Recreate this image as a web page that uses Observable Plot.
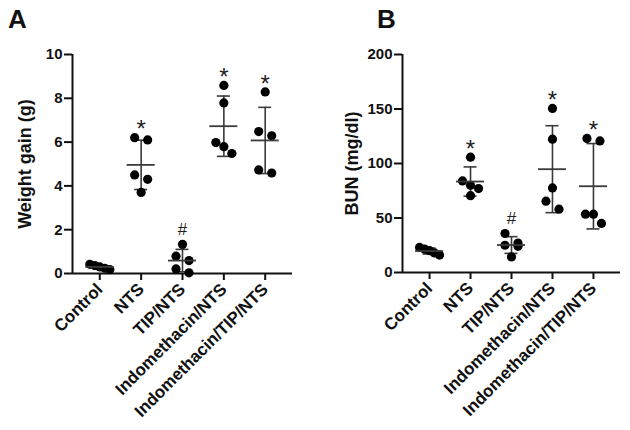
<!DOCTYPE html>
<html>
<head>
<meta charset="utf-8">
<script src="https://cdn.jsdelivr.net/npm/d3@7"></script>
<script src="https://cdn.jsdelivr.net/npm/@observablehq/plot@0.6"></script>
<style>
  html, body { margin: 0; padding: 0; background: #fff; }
  #wrap { position: relative; width: 630px; height: 430px; display: flex; }
  .letter { position: absolute; top: 6px; font: bold 26px/1 "Liberation Sans", Arial, sans-serif; color: #111; }
</style>
</head>
<body>
<div id="wrap">
  <div class="letter" style="left:8px">A</div>
  <div class="letter" style="left:377px">B</div>
</div>
<script>
// ---- data ----
const categories = ["Control", "NTS", "TIP/NTS", "Indomethacin/NTS", "Indomethacin/TIP/NTS"];
const weightGain = [
  [0.42, 0.36, 0.30, 0.24, 0.18],
  [6.2, 6.1, 4.5, 4.3, 3.7],
  [1.33, 0.79, 0.59, 0.21, 0.03],
  [8.59, 7.79, 5.98, 5.79, 5.48],
  [8.29, 6.48, 6.29, 4.73, 4.59]
];
const bun = [
  [23, 21.5, 20, 18, 16],
  [105.8, 84, 80, 77, 70.5],
  [35.8, 27, 25, 24, 14.3],
  [150.5, 122.3, 77.6, 65.4, 58.1],
  [123, 120.7, 53.5, 53.5, 45]
];
const significance = ["", "*", "#", "*", "*"];
const weightTicks = [0, 2, 4, 6, 8, 10];
const bunTicks = [0, 50, 100, 150, 200];

// ---- drawing ----
const W = 315, H = 430, PAD = 0.66;
const FONT = "'Liberation Sans', Arial, Helvetica, sans-serif";

function panel({values, ylabel, yMax, yTicks, ml, mr, mt, mb, labelX}) {
  const n = categories.length;
  const stepPx = (W - ml - mr) / (n - 1 + 2 * PAD);
  const pxPerUnit = (H - mt - mb) / yMax;
  const dots = [];
  values.forEach((vals, gi) => {
    const sorted = vals.slice().sort((a, b) => b - a);
    const rows = [];
    for (const v of sorted) {
      const r = rows[rows.length - 1];
      if (r && (r[0] - v) * pxPerUnit < 11.5) r.push(v); else rows.push([v]);
    }
    for (const r of rows) {
      const k = r.length;
      const h = k === 1 ? 0 : k === 2 ? 6.5 : k === 3 ? 8 : 10;
      r.forEach((v, j) => dots.push({g: gi, x: gi + (k === 1 ? 0 : (-h + 2 * h * j / (k - 1))) / stepPx, y: v}));
    }
  });
  const stats = values.map((vals, gi) => {
    const m = d3.mean(vals), s = d3.deviation(vals);
    return {i: gi, mean: m, lo: m - s, hi: m + s, max: d3.max(vals), sig: significance[gi]};
  });
  const meanHalf = 14 / stepPx, capHalf = 6.5 / stepPx;
  const barColor = "#3a3a3a";
  return Plot.plot({
    width: W, height: H,
    marginLeft: ml, marginRight: mr, marginTop: mt, marginBottom: mb,
    x: {type: "linear", domain: [-PAD, n - 1 + PAD]},
    y: {domain: [0, yMax]},
    style: {fontFamily: FONT, fontSize: "15px", fontWeight: "bold", color: "#111", background: "white", overflow: "visible"},
    marks: [
      Plot.ruleX([-PAD], {y1: 0, y2: yMax, stroke: "#111", strokeWidth: 2}),
      Plot.ruleY([0], {stroke: "#111", strokeWidth: 2}),
      Plot.axisY({ticks: yTicks, tickSize: 8, tickPadding: 2, strokeWidth: 2, label: null}),
      Plot.axisX({ticks: d3.range(n), tickFormat: i => categories[i], tickRotate: -45, tickSize: 7, tickPadding: 6, strokeWidth: 2, fontSize: 17, label: null}),
      Plot.text([ylabel], {frameAnchor: "left", textAnchor: "middle", rotate: -90, dx: labelX - ml, fontSize: 18, fontWeight: "bold"}),
      Plot.ruleX(stats, {x: "i", y1: "lo", y2: "hi", stroke: barColor, strokeWidth: 1.6}),
      Plot.ruleY(stats, {y: "hi", x1: d => d.i - capHalf, x2: d => d.i + capHalf, stroke: barColor, strokeWidth: 1.6}),
      Plot.ruleY(stats, {y: "lo", x1: d => d.i - capHalf, x2: d => d.i + capHalf, stroke: barColor, strokeWidth: 1.6}),
      Plot.dot(dots, {x: "x", y: "y", r: 4.6, fill: "#000", stroke: null}),
      Plot.ruleY(stats, {y: "mean", x1: d => d.i - meanHalf, x2: d => d.i + meanHalf, stroke: barColor, strokeWidth: 1.8}),
      Plot.text(stats.filter(d => d.sig === "*"), {x: "i", y: "max", text: "sig", dy: -8, fontSize: 24, fontWeight: "normal", fill: "#222"}),
      Plot.text(stats.filter(d => d.sig === "#"), {x: "i", y: "max", text: "sig", dy: -15, fontSize: 17, fontWeight: "normal", fill: "#222"})
    ]
  });
}

const wrap = document.getElementById("wrap");
wrap.appendChild(panel({values: weightGain, ylabel: "Weight gain (g)", yMax: 10, yTicks: weightTicks, ml: 72, mr: 23, mt: 54, mb: 157, labelX: 25}));
wrap.appendChild(panel({values: bun, ylabel: "BUN (mg/dl)", yMax: 200, yTicks: bunTicks, ml: 87, mr: 10, mt: 54, mb: 158, labelX: 37}));
</script>
</body>
</html>
